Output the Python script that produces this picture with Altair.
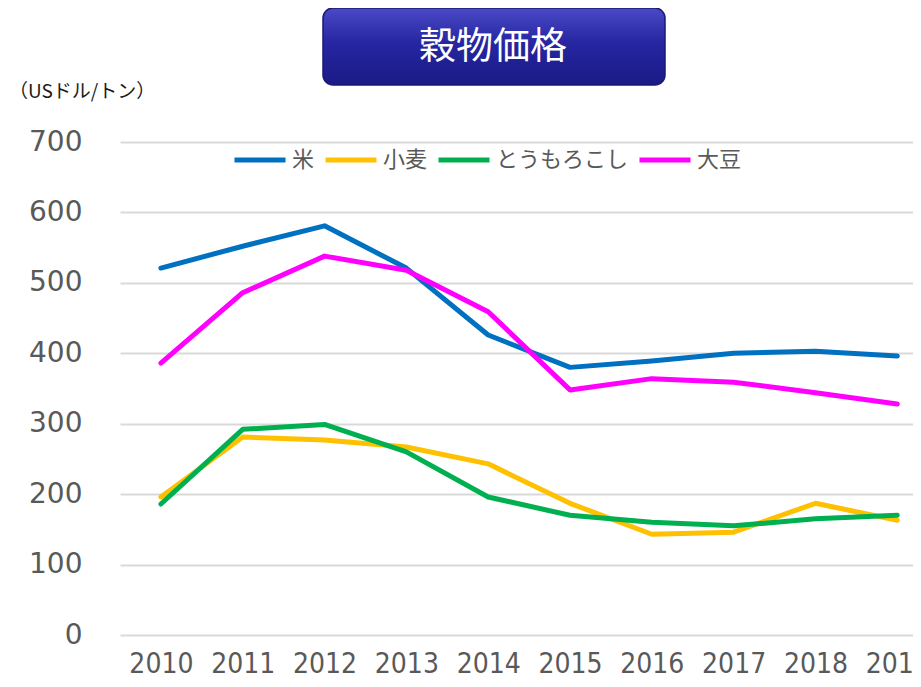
import altair as alt
import pandas as pd

years = [2010, 2011, 2012, 2013, 2014, 2015, 2016, 2017, 2018, 2019]
series_names = ["米", "小麦", "とうもろこし", "大豆"]
rice = [521, 552, 581, 521, 426, 380, 389, 400, 403, 396]
wheat = [196, 281, 277, 267, 243, 187, 143, 146, 187, 163]
maize = [186, 292, 299, 260, 196, 170, 160, 155, 165, 170]
soy = [386, 486, 538, 518, 459, 348, 364, 359, 344, 328]
colors = ["#0070C0", "#FFC000", "#00B050", "#FF00FF"]
y_ticks = [0, 100, 200, 300, 400, 500, 600, 700]
title_text = "穀物価格"
unit_text = "（USドル/トン）"

rows = []
for name, vals in zip(series_names, [rice, wheat, maize, soy]):
    for yr, v in zip(years, vals):
        rows.append({"year": yr, "value": v, "series": name})
df = pd.DataFrame(rows)

lines = alt.Chart(df).mark_line(strokeWidth=5, strokeCap="round", strokeJoin="round").encode(
    x=alt.X("year:Q",
            scale=alt.Scale(domain=[2009.5, 2019.29], nice=False, zero=False),
            axis=alt.Axis(values=years, format="d", title=None, grid=False, domain=False,
                          ticks=False, labelFont="DejaVu Sans Condensed", labelFontSize=28,
                          labelColor="#595959", labelPadding=15, labelFlush=False,
                          labelBound=False, labelOverlap=False)),
    y=alt.Y("value:Q",
            scale=alt.Scale(domain=[0, 700], nice=False),
            axis=alt.Axis(values=y_ticks, title=None, grid=True, gridColor="#d9d9d9",
                          gridWidth=2, domain=False, ticks=False, labelFont="DejaVu Sans",
                          labelFontSize=28, labelColor="#595959", labelPadding=38)),
    color=alt.Color("series:N",
                    scale=alt.Scale(domain=series_names, range=colors),
                    sort=series_names,
                    legend=alt.Legend(title=None, orient="none", legendX=112, legendY=-10,
                                      direction="horizontal", symbolType="stroke",
                                      symbolSize=2601, symbolStrokeWidth=5,
                                      labelFont="Noto Sans CJK JP", labelFontSize=22,
                                      labelColor="#595959", labelOffset=4,
                                      columnPadding=0, padding=0, labelLimit=300)),
    order=alt.Order("series_order:Q"),
).transform_calculate(
    series_order="indexof(['米','小麦','とうもろこし','大豆'], datum.series)"
)

one = pd.DataFrame({"k": [0]})

box = alt.Chart(one).mark_rect(
    cornerRadius=10,
    stroke="#1a1a70",
    strokeWidth=1.5,
    color=alt.LinearGradient(
        gradient="linear", x1=0, y1=0, x2=0, y2=1,
        stops=[alt.GradientStop(offset=0, color="#4a4ac8"),
               alt.GradientStop(offset=0.45, color="#2626a2"),
               alt.GradientStop(offset=1, color="#1a1a86")]),
).encode(x=alt.value(203), x2=alt.value(545), y=alt.value(-134), y2=alt.value(-57))

title = alt.Chart(one).mark_text(
    text=title_text, font="Noto Sans CJK JP", fontSize=37, color="white",
    align="center", baseline="middle"
).encode(x=alt.value(373), y=alt.value(-94))

unit = alt.Chart(one).mark_text(
    text=unit_text, font="Noto Sans CJK JP", fontSize=19, color="#1a1a1a",
    align="left", baseline="middle"
).encode(x=alt.value(-111), y=alt.value(-50))

chart = alt.layer(lines, box, title, unit).properties(
    width=801, height=493,
    padding={"left": 112, "top": 134, "right": -8, "bottom": 44},
    autosize=alt.AutoSizeParams(type="none"),
).configure_view(stroke=None)

chart.save("out.html", embed_options={"renderer": "svg", "actions": False})
